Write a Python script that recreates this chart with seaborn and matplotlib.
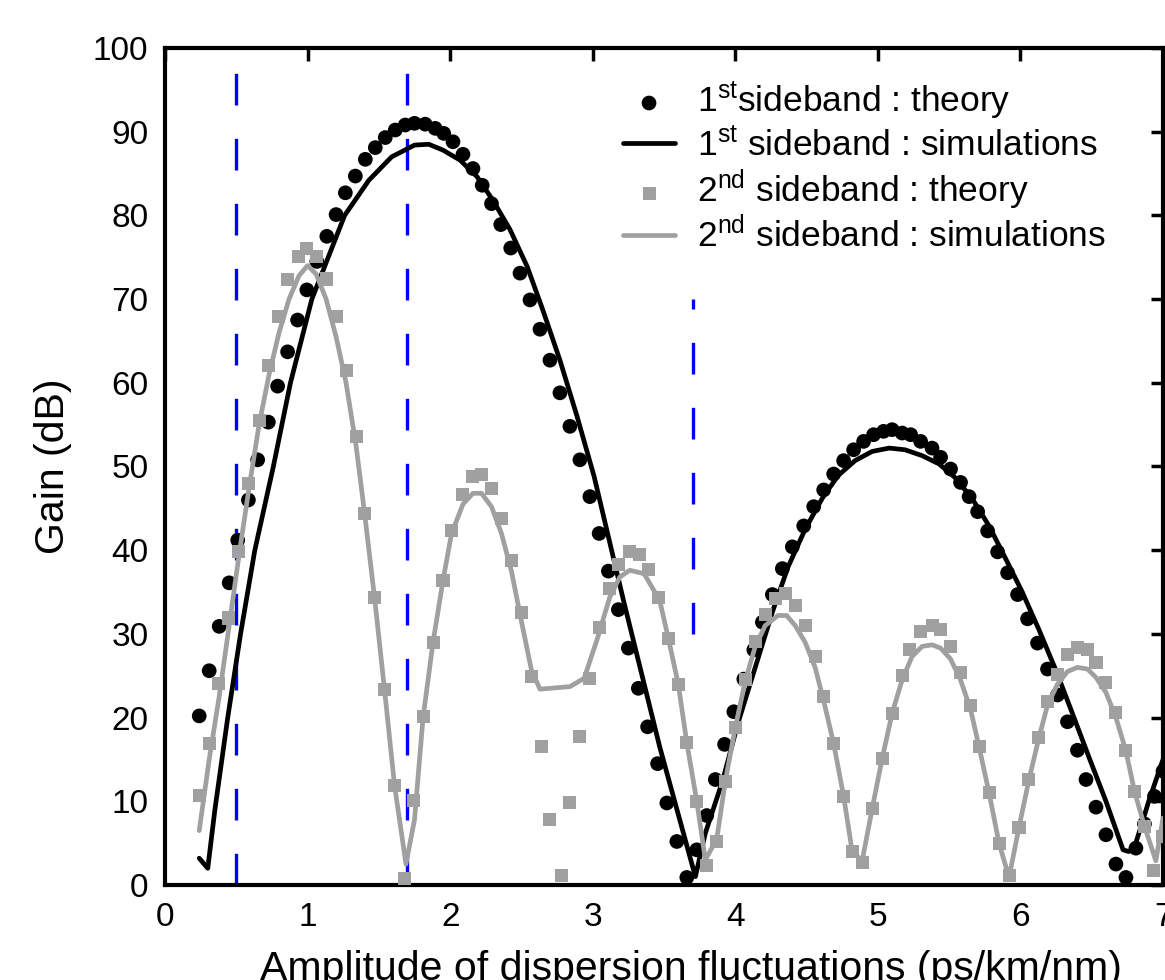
import matplotlib
matplotlib.use("Agg")
import matplotlib.pyplot as plt
import numpy as np
import pandas as pd
import seaborn as sns

# ---- data -------------------------------------------------------------
# 1st sideband, theory (dots)
s1_theory_x = [0.24, 0.31, 0.38, 0.45, 0.51, 0.585, 0.65, 0.725, 0.79, 0.86,
               0.93, 0.995, 1.065, 1.135, 1.20, 1.265, 1.335, 1.405, 1.475, 1.545,
               1.615, 1.685, 1.75, 1.825, 1.895, 1.955, 2.02, 2.09, 2.16, 2.225,
               2.29, 2.355, 2.425, 2.49, 2.56, 2.63, 2.70, 2.77, 2.84, 2.91,
               2.98, 3.045, 3.11, 3.18, 3.25, 3.32, 3.385, 3.455, 3.52, 3.59,
               3.66, 3.73, 3.80, 3.86, 3.925, 3.99, 4.06, 4.13, 4.19, 4.26,
               4.33, 4.40, 4.48, 4.55, 4.62, 4.69, 4.76, 4.83, 4.90, 4.97,
               5.04, 5.10, 5.17, 5.23, 5.30, 5.38, 5.44, 5.51, 5.58, 5.64,
               5.70, 5.77, 5.84, 5.91, 5.98, 6.05, 6.12, 6.19, 6.26, 6.33,
               6.40, 6.46, 6.53, 6.60, 6.67, 6.74, 6.81, 6.87, 6.94, 7.00]
s1_theory_y = [20.2, 25.6, 30.9, 36.1, 41.2, 46.0, 50.8, 55.3, 59.6, 63.7,
               67.5, 71.1, 74.5, 77.5, 80.1, 82.7, 84.7, 86.7, 88.1, 89.3,
               90.2, 90.8, 91.0, 90.9, 90.4, 89.8, 88.8, 87.3, 85.6, 83.6,
               81.4, 78.9, 76.1, 73.1, 69.9, 66.4, 62.7, 58.8, 54.8, 50.8,
               46.4, 42.0, 37.5, 32.9, 28.3, 23.5, 18.9, 14.5, 9.8, 5.2,
               0.9, 4.2, 8.3, 12.6, 16.8, 20.7, 24.6, 28.1, 31.4, 34.7,
               37.8, 40.4, 42.9, 45.2, 47.2, 49.1, 50.7, 52.0, 53.0, 53.8,
               54.2, 54.4, 54.0, 53.8, 53.0, 52.2, 51.1, 49.7, 48.1, 46.4,
               44.6, 42.3, 39.8, 37.3, 34.7, 31.8, 28.9, 25.8, 22.7, 19.5,
               16.1, 12.6, 9.3, 6.0, 2.5, 0.9, 4.4, 7.3, 10.6, 13.6]

# 1st sideband, simulations (black line)
s1_sim_x = [0.24, 0.30, 0.35, 0.44, 0.53, 0.63, 0.76, 0.88, 1.03, 1.26,
            1.43, 1.59, 1.75, 1.85, 1.95, 2.07, 2.19, 2.30, 2.42, 2.54,
            2.65, 2.77, 2.89, 3.01, 3.22, 3.47, 3.72, 3.79, 3.91, 4.02,
            4.14, 4.26, 4.37, 4.49, 4.61, 4.72, 4.84, 4.96, 5.08, 5.19,
            5.31, 5.43, 5.54, 5.66, 5.78, 5.89, 6.01, 6.13, 6.25, 6.36,
            6.48, 6.60, 6.72, 6.76, 6.80, 6.90, 7.00]
s1_sim_y = [3.2, 2.0, 9.0, 20.0, 30.0, 40.0, 50.0, 60.0, 70.0, 80.0,
            84.2, 87.0, 88.4, 88.5, 87.8, 86.6, 84.6, 81.8, 78.3, 73.9,
            68.7, 62.7, 56.0, 48.8, 33.7, 16.5, 1.0, 6.2, 12.4, 19.4,
            26.0, 32.6, 38.0, 42.5, 46.2, 48.9, 50.7, 51.8, 52.2, 52.0,
            51.3, 50.3, 48.7, 46.2, 42.9, 39.2, 35.1, 30.5, 25.6, 20.7,
            15.3, 10.0, 4.2, 4.0, 4.5, 10.0, 15.0]

# 2nd sideband, theory (squares)
s2_theory_x = [0.24, 0.31, 0.375, 0.445, 0.515, 0.585, 0.665, 0.725, 0.795, 0.86,
               0.935, 0.995, 1.065, 1.135, 1.205, 1.27, 1.34, 1.40, 1.47, 1.54,
               1.61, 1.68, 1.745, 1.81, 1.88, 1.95, 2.01, 2.09, 2.16, 2.22,
               2.29, 2.36, 2.43, 2.50, 2.57, 2.64, 2.70, 2.78, 2.84, 2.91,
               2.98, 3.05, 3.12, 3.18, 3.26, 3.33, 3.39, 3.46, 3.53, 3.60,
               3.66, 3.73, 3.80, 3.87, 3.93, 4.00, 4.07, 4.14, 4.21, 4.28,
               4.35, 4.42, 4.49, 4.56, 4.62, 4.69, 4.76, 4.82, 4.89, 4.96,
               5.03, 5.10, 5.17, 5.22, 5.30, 5.38, 5.44, 5.51, 5.58, 5.65,
               5.71, 5.78, 5.85, 5.92, 5.99, 6.06, 6.13, 6.19, 6.26, 6.33,
               6.40, 6.47, 6.53, 6.60, 6.67, 6.74, 6.80, 6.87, 6.93, 7.00]
s2_theory_y = [10.75, 16.9, 24.1, 31.9, 39.8, 48.0, 55.5, 62.1, 67.9, 72.3,
               75.1, 76.1, 75.1, 72.4, 67.9, 61.5, 53.6, 44.4, 34.3, 23.3,
               11.9, 0.8, 10.1, 20.1, 29.0, 36.4, 42.4, 46.6, 48.8, 49.0,
               47.4, 43.8, 38.8, 32.5, 24.9, 16.6, 7.8, 1.1, 9.8, 17.7,
               24.7, 30.8, 35.4, 38.3, 39.8, 39.5, 37.7, 34.4, 29.5, 24.0,
               17.0, 10.0, 2.3, 5.2, 12.4, 18.8, 24.6, 29.1, 32.3, 34.2,
               34.8, 33.4, 31.0, 27.3, 22.5, 16.9, 10.6, 4.0, 2.7, 9.1,
               15.1, 20.5, 25.0, 28.1, 30.3, 31.0, 30.5, 28.5, 25.4, 21.5,
               16.5, 11.0, 5.0, 1.1, 6.9, 12.6, 17.6, 21.9, 25.2, 27.5,
               28.4, 28.1, 26.6, 24.2, 20.6, 16.1, 11.2, 7.0, 1.7, 5.8]

# 2nd sideband, simulations (grey line)
s2_sim_x = [0.24, 0.31, 0.38, 0.45, 0.52, 0.59, 0.66, 0.73, 0.80, 0.87,
            0.94, 1.00, 1.06, 1.13, 1.20, 1.27, 1.34, 1.40, 1.47, 1.54,
            1.61, 1.69, 1.75, 1.81, 1.88, 1.95, 2.01, 2.09, 2.16, 2.22,
            2.29, 2.36, 2.43, 2.50, 2.57, 2.63, 2.84, 2.94, 3.03, 3.12,
            3.19, 3.26, 3.36, 3.47, 3.53, 3.60, 3.66, 3.73, 3.79, 3.87,
            3.93, 4.00, 4.07, 4.14, 4.21, 4.30, 4.36, 4.42, 4.49, 4.56,
            4.62, 4.69, 4.76, 4.82, 4.89, 4.96, 5.03, 5.10, 5.17, 5.24,
            5.31, 5.38, 5.44, 5.51, 5.58, 5.65, 5.71, 5.78, 5.85, 5.92,
            5.99, 6.06, 6.13, 6.19, 6.26, 6.33, 6.40, 6.47, 6.53, 6.60,
            6.67, 6.74, 6.80, 6.87, 6.95, 7.00]
s2_sim_y = [6.5, 15.0, 22.5, 31.0, 39.5, 47.5, 55.0, 61.0, 66.0, 70.0,
            72.8, 74.0, 73.0, 70.0, 65.5, 60.0, 52.5, 44.4, 34.3, 23.3,
            11.9, 2.5, 7.8, 20.0, 29.0, 36.4, 42.0, 45.5, 46.8, 46.8,
            45.2, 42.0, 37.5, 31.5, 25.7, 23.4, 23.7, 24.7, 29.3, 34.4,
            36.8, 37.6, 37.2, 34.0, 29.5, 24.0, 17.0, 10.0, 3.0, 5.5,
            12.4, 18.8, 24.4, 28.5, 31.0, 32.2, 32.2, 31.0, 29.0, 26.0,
            22.0, 16.9, 10.6, 4.0, 2.9, 9.1, 15.1, 20.5, 24.5, 27.3,
            28.5, 28.7, 28.3, 27.0, 24.5, 21.0, 16.5, 11.0, 5.0, 0.9,
            6.9, 12.6, 17.6, 21.5, 24.0, 25.5, 26.0, 25.8, 24.8, 23.0,
            20.0, 16.0, 11.2, 7.0, 2.9, 8.0]

# reference amplitudes (blue dashed markers) and their vertical extent (dB)
marker_x = [0.5, 1.7, 3.7]
marker_lo = [0, 0, 30]
marker_hi = [100, 100, 70]

labels = [r"1$^{\rm st}$sideband : theory",
          r"1$^{\rm st}$ sideband : simulations",
          r"2$^{\rm nd}$ sideband : theory",
          r"2$^{\rm nd}$ sideband : simulations"]

x_ticks = [0, 1, 2, 3, 4, 5, 6, 7]
y_ticks = [0, 10, 20, 30, 40, 50, 60, 70, 80, 90, 100]

# ---- style ------------------------------------------------------------
sns.set_style("white")
plt.rcParams["font.family"] = ["Liberation Sans", "DejaVu Sans"]
plt.rcParams["mathtext.fontset"] = "custom"
plt.rcParams["mathtext.rm"] = "Liberation Sans"
plt.rcParams["mathtext.it"] = "Liberation Sans:italic"
plt.rcParams["mathtext.bf"] = "Liberation Sans:bold"
for key in ("text.color", "axes.labelcolor", "xtick.color", "ytick.color"):
    plt.rcParams[key] = "black"

GREY = "#a0a0a0"
TICK_FS = 24
LABEL_FS = 29.5
LEGEND_FS = 25.5

fig = plt.figure(figsize=(11.65, 9.8), dpi=100)
ax = fig.add_axes([165 / 1165, 95 / 980, 998 / 1165, 837 / 980])

for xm, lo, hi in zip(marker_x, marker_lo, marker_hi):
    ax.axvline(xm, ymin=lo / 100, ymax=hi / 100, color="#0000ff", lw=2.4,
               ls=(0, (9.5, 10)), zorder=1)

sns.scatterplot(x=s1_theory_x, y=s1_theory_y, ax=ax, color="black", marker="o",
                s=112, edgecolor="none", linewidth=0, label=labels[0], zorder=2)
sns.lineplot(x=s1_sim_x, y=s1_sim_y, ax=ax, color="black", lw=3.4,
             estimator=None, sort=False, label=labels[1], zorder=3)
sns.scatterplot(x=s2_theory_x, y=s2_theory_y, ax=ax, color=GREY, marker="s",
                s=88, edgecolor="none", linewidth=0, label=labels[2], zorder=4)
sns.lineplot(x=s2_sim_x, y=s2_sim_y, ax=ax, color=GREY, lw=3.4,
             estimator=None, sort=False, label=labels[3], zorder=5)

ax.set_xlim(0, 7)
ax.set_ylim(0, 100)
ax.set_xticks(x_ticks)
ax.set_yticks(y_ticks)
ax.tick_params(direction="in", length=9, width=2.5, top=True, right=True,
               labelsize=TICK_FS, pad=12, colors="black")
for sp in ax.spines.values():
    sp.set_visible(True)
    sp.set_linewidth(3)
    sp.set_color("black")

ax.set_xlabel("Amplitude of dispersion fluctuations (ps/km/nm)", fontsize=LABEL_FS)
ax.set_ylabel("Gain (dB)", fontsize=LABEL_FS)
ax.xaxis.set_label_coords(0.527, -0.078)
ax.yaxis.set_label_coords(-0.093, 0.5)

ax.legend(loc="upper left", bbox_to_anchor=(623 / 1165, 1 - 80 / 980),
          bbox_transform=fig.transFigure, frameon=False, fontsize=LEGEND_FS,
          borderpad=0, handlelength=1.47, handletextpad=0.62,
          labelspacing=0.15, borderaxespad=0)

fig.savefig("out.png", dpi=100)
